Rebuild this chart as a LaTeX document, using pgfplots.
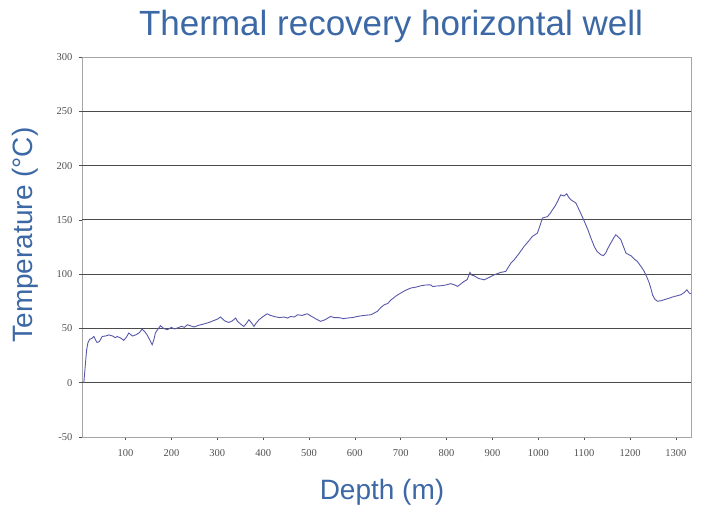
\documentclass[border=0pt]{standalone}
\usepackage{pgfplots}
\pgfplotsset{compat=1.18}
\usepackage{fontspec}
\setmainfont{Liberation Sans}
\newfontfamily\serifnum{Liberation Serif}
\definecolor{titleblue}{RGB}{60,104,165}
\definecolor{linecol}{RGB}{88,88,170}
\definecolor{gridcol}{RGB}{75,75,75}
\definecolor{framecol}{RGB}{165,165,165}
\definecolor{tickcol}{RGB}{80,80,80}
\begin{document}
\begin{tikzpicture}[x=1pt,y=1pt]
\path[use as bounding box] (0,0) rectangle (708,511);
\begin{axis}[
  at={(82pt,74pt)}, anchor=south west,
  scale only axis, width=609pt, height=380pt,
  xmin=5, xmax=1333, ymin=-50, ymax=300,
  xtick={100,200,...,1300},
  ytick={-50,0,...,300},
  extra y ticks={0,50,...,250},
  extra y tick labels={},
  extra y tick style={ymajorgrids=true, major tick length=0pt,
     major grid style={draw=gridcol, line width=1.2pt}},
  tick pos=left, tick align=outside,
  major tick length=3pt,
  tick style={draw=tickcol, line width=0.5pt},
  axis line style={draw=framecol, line width=0.9pt},
  ticklabel style={font=\serifnum\fontsize{10.5}{12}\selectfont, text=tickcol},
  /pgf/number format/assume math mode=true,
  /pgf/number format/1000 sep={},
  xticklabel style={yshift=-6pt},
  yticklabel style={xshift=-3pt},
  clip=false,
]
\addplot[color=linecol, line width=0.9pt] coordinates {
(9,0) (12,15) (15,30) (18,37) (22,40) (27,41) (31,42.6) (35,39) (38,37) (43,38) (49,42.6)
(56,43) (63.5,44) (72,43) (77,41.5) (82,42.6) (90,41) (96,39) (102,42) (107,45.8) (115,43)
(122,44) (130,46) (136,49.4) (142,47) (147,44) (152,40) (158,35) (162,40) (165,45.8)
(170,49) (176,52.5) (183,50) (191,48.8) (200,51) (207,49.5) (213,50.4) (222,52) (228,51) (235,53.4)
(249,51.3) (260,53) (270,54) (278,55) (285,56) (293,57.4) (300,58.5) (307,60.5) (316,57) (325,55.5)
(333,57) (340,59.6) (344,56.5) (351,54) (358,51.8) (364,55) (369,58) (375,55)
(380,51.8) (385,55) (391,58) (400,61) (409,63.5) (416,62) (424,61) (435,60)
(446,60.5) (453,59.5) (460,61) (468,60.5) (475,62.6) (485,62) (496,63.5) (510,60) (525,56.5) (535,58)
(547,61) (555,60) (565,60) (575,59) (584,59.6) (595,60) (605,61) (620,62) (635,62.6) (649,65.7)
(656,69) (664,71.8) (672,73) (678,76) (690,80) (700,82.6) (710,85) (722,87.2)
(733,88) (744,89.3) (755,90) (765,90.2) (770,88.5) (776,89) (787,89.3) (798,90) (809,91.2)
(818,90) (824,88.7) (831,91) (838,93.3) (845,95) (851,101.6) (855,99) (860,98.5)
(870,96) (882,94.8) (893,97) (904,99.4) (918,101.6) (929,102.5) (940,110) (947,113)
(958,119) (969,125.5) (980,131) (987,134.7) (998,137.8) (1004,145) (1009,151.7)
(1020,153) (1026,156) (1031,159.3) (1037,163) (1042,167) (1049,173) (1056,172)
(1062,174) (1066,171) (1071,168.5) (1082,165.5) (1087,161) (1092,156.5) (1100,149)
(1108,141) (1115,133) (1122,125.5) (1128,121) (1136,118) (1142,117) (1147,119.5)
(1152,124) (1158,128.6) (1164,133) (1169,136.3) (1175,134) (1180,131.7) (1186,125)
(1191,119.5) (1197,118) (1202,117) (1209,114) (1216,111.7) (1224,107) (1231,102.5)
(1237,97) (1242,91.8) (1246,86) (1249,81) (1254,77) (1260,75) (1267,75.5)
(1274,76.4) (1283,77.5) (1293,79) (1302,80) (1311,81) (1318,83) (1324,85.6)
(1329,82.6) (1333,82)
};
\end{axis}
\node[font=\fontsize{35}{41}\selectfont, text=titleblue] at (391,485) {Thermal recovery horizontal well};
\node[font=\fontsize{28}{34}\selectfont, text=titleblue] at (382,19) {Depth (m)};
\node[font=\fontsize{28}{34}\selectfont, text=titleblue, rotate=90] at (25,276) {Temperature (°C)};
\end{tikzpicture}
\end{document}
